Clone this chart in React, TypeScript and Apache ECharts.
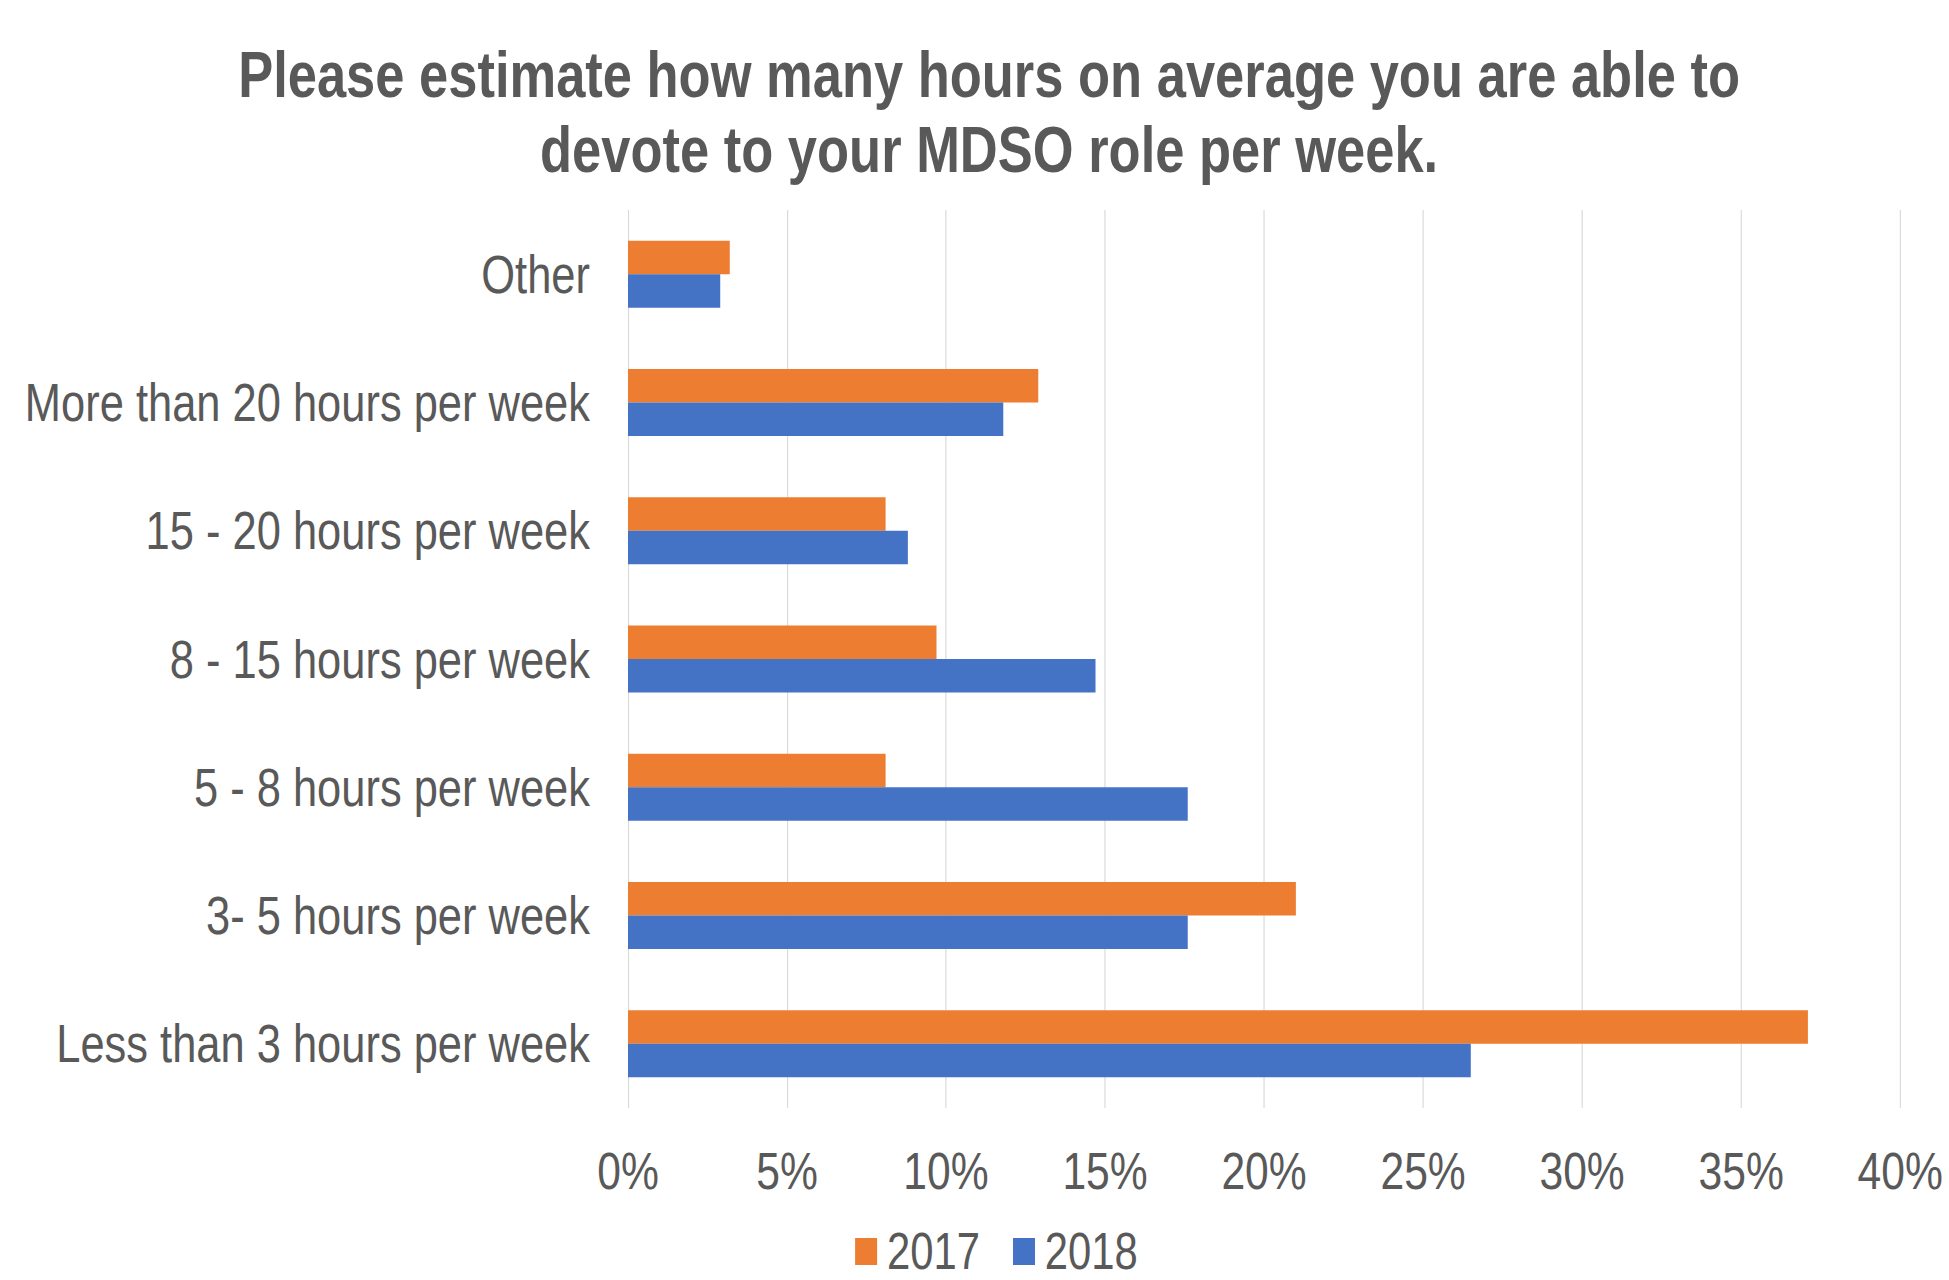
import React, { useEffect, useRef } from "react";
import * as echarts from "echarts";

const titleText = "Please estimate how many hours on average you are able to\ndevote to your MDSO role per week.";
const categories = [
  "Other",
  "More than 20 hours per week",
  "15 - 20 hours per week",
  "8 - 15 hours per week",
  "5 - 8 hours per week",
  "3- 5 hours per week",
  "Less than 3 hours per week",
];
const seriesNames = ["2017", "2018"];
const values2017 = [3.2, 12.9, 8.1, 9.7, 8.1, 21.0, 37.1];
const values2018 = [2.9, 11.8, 8.8, 14.7, 17.6, 17.6, 26.5];
const xTicks = { min: 0, max: 40, interval: 5 };

// The reference uses a narrow typeface; we render with Liberation Sans and
// compress the whole chart horizontally to get the same narrow look.
const SX = 0.82;
const W = 1949;
const H = 1280;
const FONT = "'Liberation Sans', Arial, sans-serif";
const GREY = "#595959";

export default function App() {
  const ref = useRef<HTMLDivElement>(null);
  useEffect(() => {
    document.body.style.margin = "0";
    document.body.style.overflow = "hidden";
    const chart = echarts.init(ref.current!, null, { renderer: "svg" });
    const cw = W / SX;
    chart.setOption({
      animation: false,
      backgroundColor: "#ffffff",
      title: {
        text: titleText,
        left: 985 / SX,
        top: 32,
        textAlign: "center",
        textStyle: {
          fontFamily: FONT,
          fontSize: 64,
          fontWeight: "bold",
          color: GREY,
          lineHeight: 75,
        },
      },
      legend: {
        data: seriesNames,
        left: 851 / SX,
        top: 1221,
        itemWidth: 22 / SX,
        itemHeight: 27,
        itemGap: 33 / SX,
        icon: "rect",
        textStyle: { fontFamily: FONT, fontSize: 51, color: GREY, lineHeight: 40, padding: [0, 0, 0, 7] },
      },
      grid: {
        left: 628 / SX,
        right: cw - 1900 / SX,
        top: 210,
        bottom: 172,
        containLabel: false,
        outerBoundsMode: "none",
      },
      xAxis: {
        type: "value",
        min: xTicks.min,
        max: xTicks.max,
        interval: xTicks.interval,
        axisLine: { show: false },
        axisTick: { show: false },
        splitLine: { show: true, lineStyle: { color: "#d9d9d9", width: 1.4 } },
        axisLabel: {
          formatter: "{value}%",
          fontFamily: FONT,
          fontSize: 52,
          color: GREY,
          margin: 38,
          lineHeight: 50,
        },
      },
      yAxis: {
        type: "category",
        data: categories,
        inverse: true,
        axisLine: { show: false },
        axisTick: { show: false },
        axisLabel: {
          fontFamily: FONT,
          fontSize: 53,
          color: GREY,
          margin: 38 / SX,
        },
      },
      series: [
        {
          name: seriesNames[0],
          type: "bar",
          data: values2017,
          barWidth: 33.5,
          barGap: "0%",
          itemStyle: { color: "#ED7D31" },
        },
        {
          name: seriesNames[1],
          type: "bar",
          data: values2018,
          barWidth: 33.5,
          barGap: "0%",
          itemStyle: { color: "#4472C4" },
        },
      ],
    });
    return () => chart.dispose();
  }, []);
  return (
    <div style={{ position: "absolute", left: 0, top: 0, width: W, height: H, overflow: "hidden", background: "#fff" }}>
      <div
        ref={ref}
        style={{
          position: "absolute",
          left: 0,
          top: 0,
          width: W / SX,
          height: H,
          transform: `scaleX(${SX})`,
          transformOrigin: "0 0",
        }}
      />
    </div>
  );
}
